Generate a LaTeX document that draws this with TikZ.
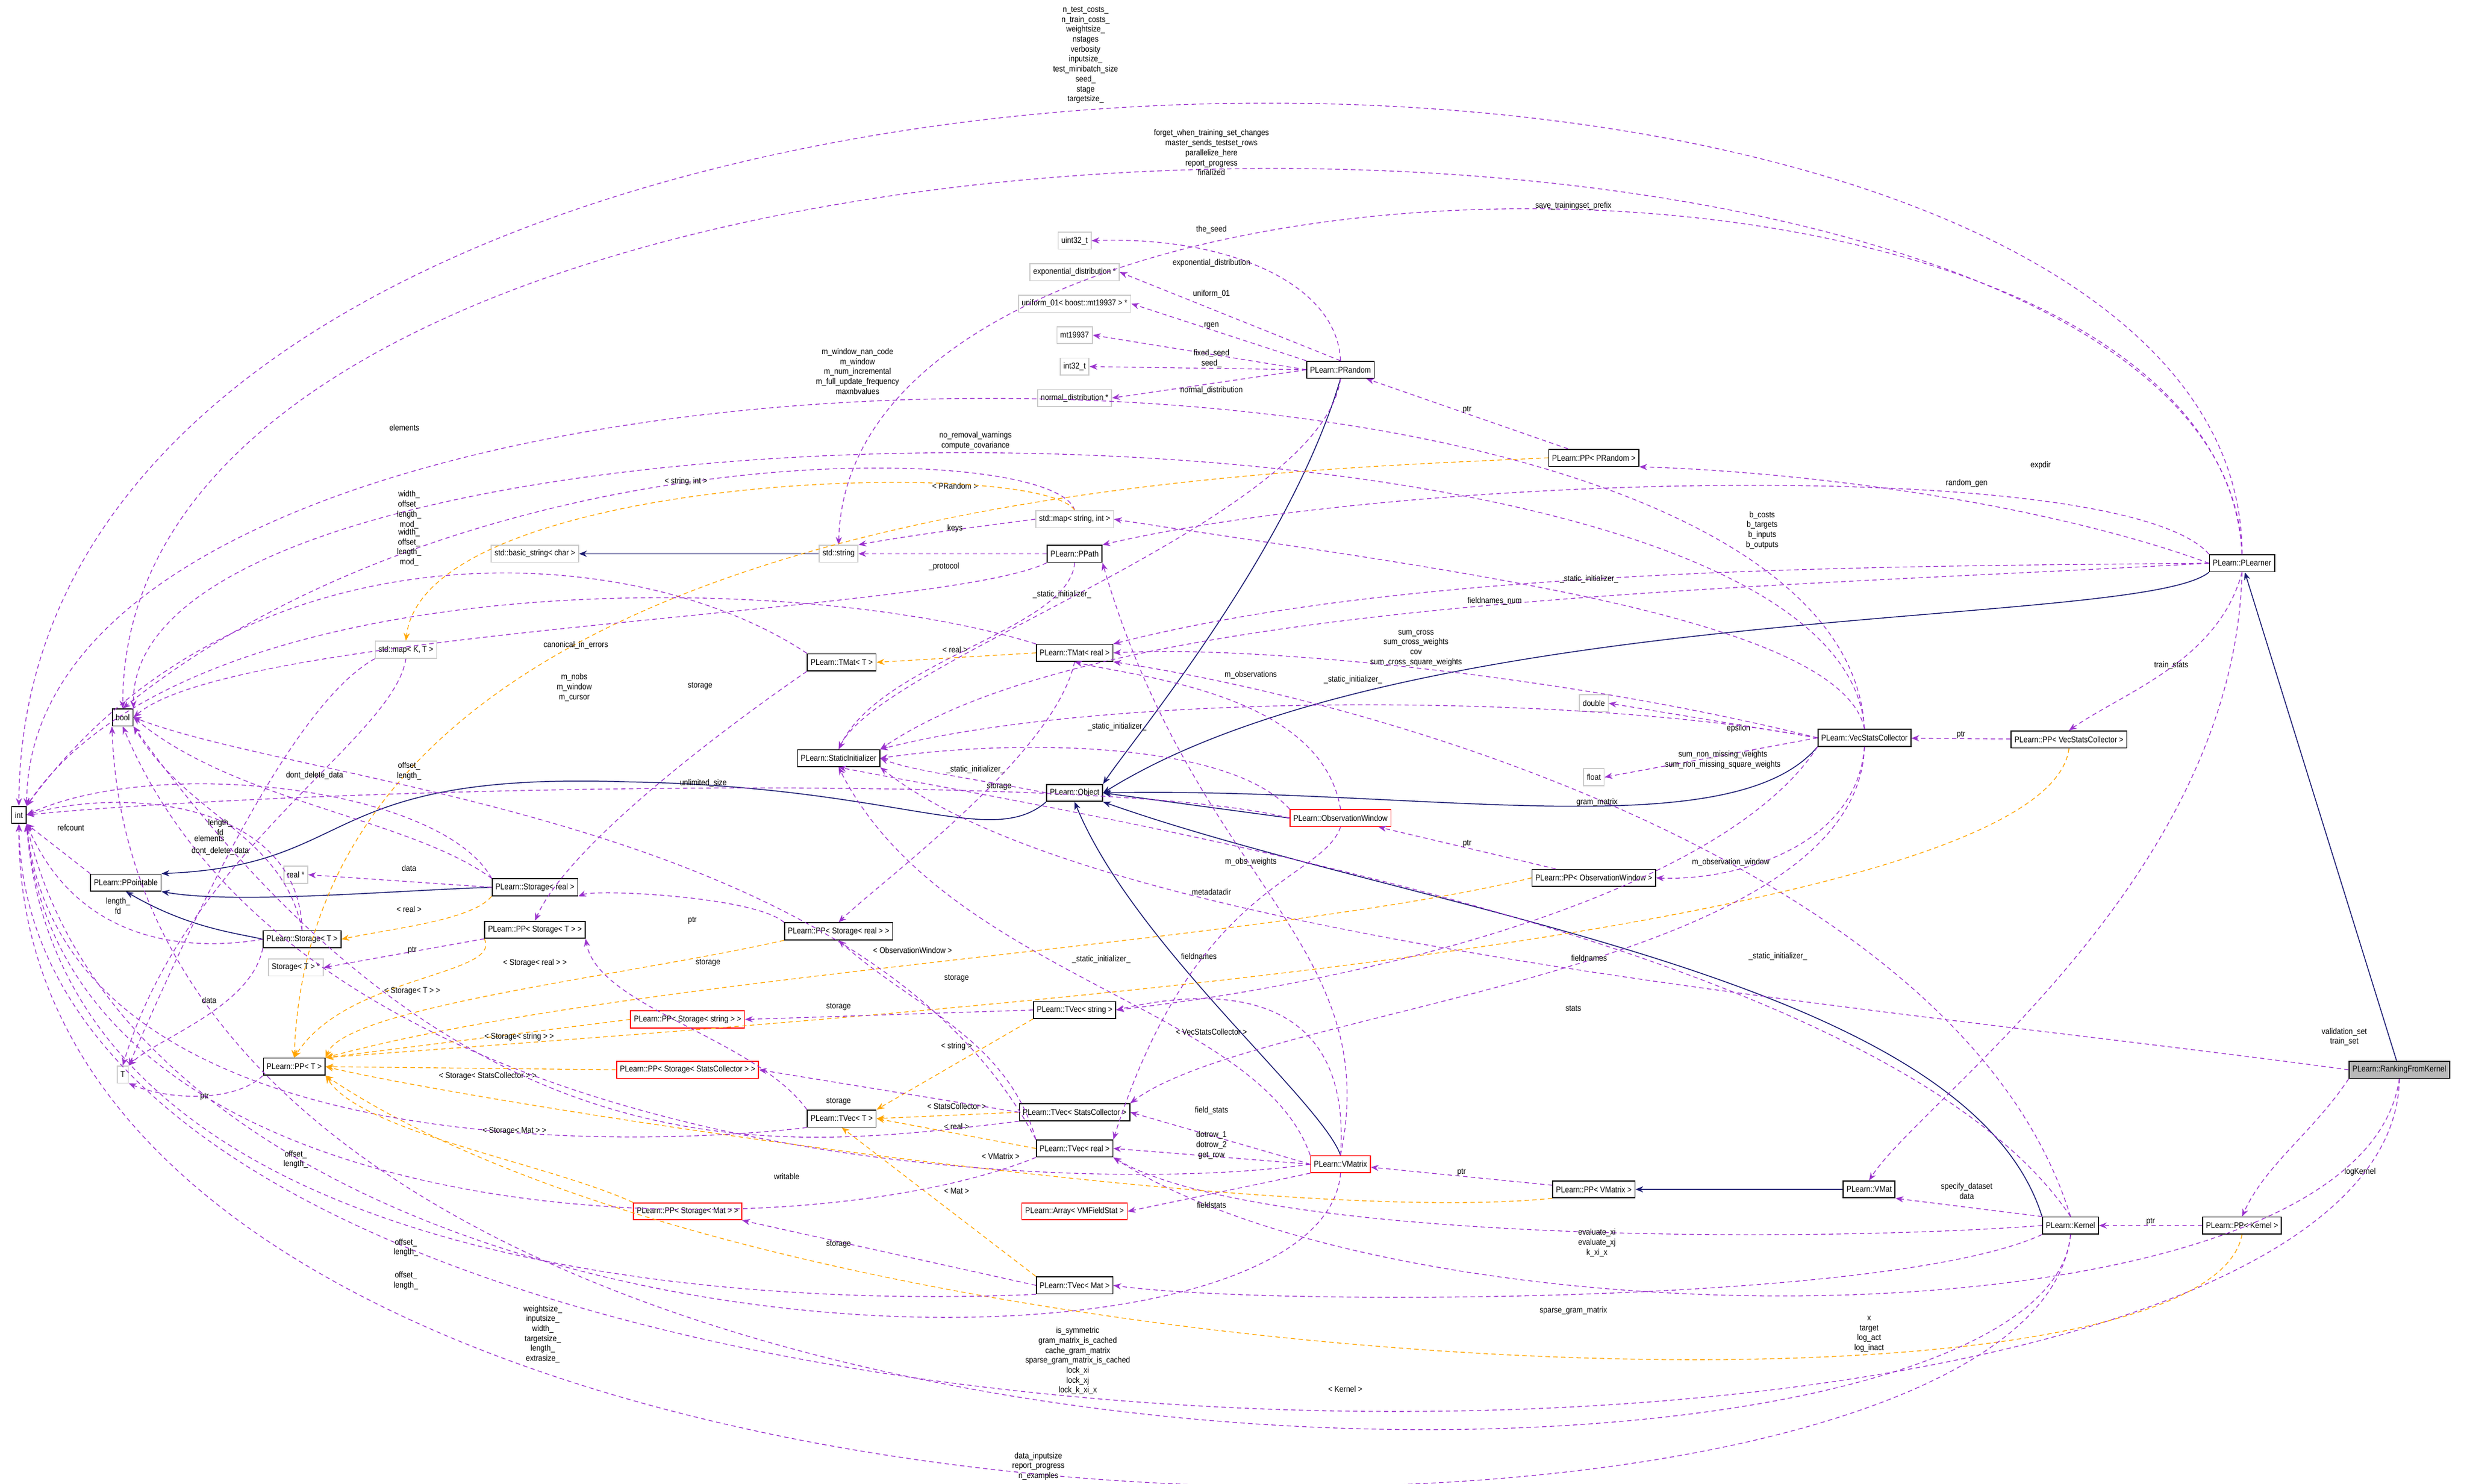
\documentclass[tikz,border=0pt]{standalone}
\usepackage{fontspec}
\setmainfont{Liberation Sans}[FakeStretch=0.88]
\usetikzlibrary{arrows.meta}
\definecolor{pu}{HTML}{9A32CD}
\definecolor{nv}{HTML}{191970}
\definecolor{og}{HTML}{FFA500}
\tikzset{
 x=0.05cm,y=-0.05cm,
 every node/.style={font=\fontsize{7.6}{9}\selectfont},
 bx/.style={draw=black,line width=0.9pt,fill=white,inner xsep=3pt,inner ysep=0pt,minimum height=0.54cm},
 gx/.style={bx,draw=gray!40},
 rx/.style={bx,draw=red},
 fx/.style={bx,fill=gray!55},
 lb/.style={align=center,inner sep=0pt},
 use/.style={draw=pu,dashed,dash pattern=on 4pt off 3pt,line width=0.7pt,-{Stealth[length=7pt,width=5.5pt]}},
 tp/.style={draw=og,dashed,dash pattern=on 4pt off 3pt,line width=0.7pt,-{Stealth[length=7pt,width=5.5pt]}},
 ih/.style={draw=nv,line width=0.8pt,-{Stealth[length=7pt,width=5.5pt]}},
}
\begin{document}
\begin{tikzpicture}
\useasboundingbox (0,0) rectangle (1568,943);
% nodes
\node[bx] (int) at (12,518) {int};
\node[bx] (bool) at (78,456) {bool};
\node[bx] (ppt) at (80,561) {PLearn::PPointable};
\node[gx] (realp) at (188,556) {real *};
\node[bx] (stor) at (340,564) {PLearn::Storage< real >};
\node[bx] (stT) at (192,597) {PLearn::Storage< T >};
\node[gx] (stTp) at (188,615) {Storage< T > *};
\node[gx] (T) at (78,683) {T};
\node[bx] (ppT) at (187,678) {PLearn::PP< T >};
\node[bx] (ppsT) at (340,591) {PLearn::PP< Storage< T > >};
\node[bx] (ppsr) at (533,592) {PLearn::PP< Storage< real > >};
\node[rx] (ppss) at (437,648) {PLearn::PP< Storage< string > >};
\node[rx] (ppsc) at (437,680) {PLearn::PP< Storage< StatsCollector > >};
\node[rx] (ppsm) at (437,770) {PLearn::PP< Storage< Mat > >};
\node[bx] (tvT) at (535,711) {PLearn::TVec< T >};
\node[bx] (tvs) at (683,642) {PLearn::TVec< string >};
\node[bx] (tvsc) at (683,707) {PLearn::TVec< StatsCollector >};
\node[bx] (tvr) at (683,730) {PLearn::TVec< real >};
\node[rx] (arr) at (683,770) {PLearn::Array< VMFieldStat >};
\node[bx] (tvm) at (683,817) {PLearn::TVec< Mat >};
\node[rx] (vmx) at (852,740) {PLearn::VMatrix};
\node[bx] (ppvm) at (1013,756) {PLearn::PP< VMatrix >};
\node[bx] (vmat) at (1188,756) {PLearn::VMat};
\node[bx] (ker) at (1316,779) {PLearn::Kernel};
\node[bx] (ppk) at (1425,779) {PLearn::PP< Kernel >};
\node[fx] (rfk) at (1525,680) {PLearn::RankingFromKernel};
\node[bx] (pl) at (1425,358) {PLearn::PLearner};
\node[bx] (ppvs) at (1315,470) {PLearn::PP< VecStatsCollector >};
\node[bx] (vsc) at (1185,469) {PLearn::VecStatsCollector};
\node[bx] (ppow) at (1013,558) {PLearn::PP< ObservationWindow >};
\node[rx] (ow) at (852,520) {PLearn::ObservationWindow};
\node[bx] (obj) at (683,504) {PLearn::Object};
\node[bx] (si) at (533,482) {PLearn::StaticInitializer};
\node[bx] (tmr) at (683,415) {PLearn::TMat< real >};
\node[bx] (tmT) at (535,421) {PLearn::TMat< T >};
\node[gx] (mKT) at (258,413) {std::map< K, T >};
\node[gx] (bstr) at (340,352) {std::basic\_string< char >};
\node[gx] (str) at (533,352) {std::string};
\node[bx] (pp) at (683,352) {PLearn::PPath};
\node[gx] (msi) at (683,330) {std::map< string, int >};
\node[bx] (ppr) at (1013,291) {PLearn::PP< PRandom >};
\node[bx] (pr) at (852,235) {PLearn::PRandom};
\node[gx] (u32) at (683,153) {uint32\_t};
\node[gx] (exd) at (683,173) {exponential\_distribution *};
\node[gx] (uni) at (683,193) {uniform\_01< boost::mt19937 > *};
\node[gx] (mt) at (683,213) {mt19937};
\node[gx] (i32) at (683,233) {int32\_t};
\node[gx] (nd) at (683,253) {normal\_distribution *};
\node[gx] (dbl) at (1013,447) {double};
\node[gx] (flt) at (1013,494) {float};

% inheritance
\draw[ih] (rfk) -- (pl);
\draw[ih] (pl.south west) .. controls (1360,400) and (900,380) .. (obj.east);
\draw[ih] (pr.south) .. controls (820,350) and (720,470) .. (obj.north east);
\draw[ih] (vsc.south west) .. controls (1100,540) and (900,500) .. (obj.east);
\draw[ih] (ow.west) -- (obj.east);
\draw[ih] (ker.north west) .. controls (1250,620) and (900,580) .. (obj.south east);
\draw[ih] (vmx.north) .. controls (840,700) and (720,600) .. (obj.south);
\draw[ih] (obj.south west) .. controls (630,540) and (570,500) .. (400,497) .. controls (200,490) and (230,550) .. (ppt.north east);
\draw[ih] (stor.west) .. controls (250,566) and (150,575) .. (ppt.south east);
\draw[ih] (stT.west) .. controls (150,593) and (120,590) .. (ppt.south);
\draw[ih] (str) -- (bstr);
\draw[ih] (vmat) -- (ppvm);

% PLearner uses
\draw[use] (pl.north) .. controls (1425,-53) and (15,-53) .. (int.north);
\node[lb] (l1) at (690,35) {n\_test\_costs\_\\n\_train\_costs\_\\weightsize\_\\nstages\\verbosity\\inputsize\_\\test\_minibatch\_size\\seed\_\\stage\\targetsize\_};
\draw[use] (pl.north) .. controls (1415,11) and (78,11) .. (bool.north);
\node[lb] (l2) at (770,97) {forget\_when\_training\_set\_changes\\master\_sends\_testset\_rows\\parallelize\_here\\report\_progress\\finalized};
\draw[use] (pl.north) .. controls (1410,61) and (540,61) .. (str.north);
\node[lb] (l3) at (1000,131) {save\_trainingset\_prefix};
\draw[use] (pl.west) .. controls (1300,320) and (1150,300) .. (ppr.south east);
\node[lb] (l4) at (1250,307) {random\_gen};
\draw[use] (pl.north west) .. controls (1350,290) and (900,300) .. (pp.north east);
\node[lb] (l5) at (1297,296) {expdir};
\draw[use] (pl.west) .. controls (1200,360) and (900,360) .. (tmr.north east);
\node[lb] (l6) at (1120,337) {b\_costs\\b\_targets\\b\_inputs\\b\_outputs};
\draw[use] (pl.west) .. controls (1100,375) and (700,380) .. (si.north east);
\node[lb] (l7) at (1010,368) {\_static\_initializer\_};
\draw[use] (pl.south) .. controls (1410,420) and (1350,440) .. (ppvs.north);
\node[lb] (l8) at (1380,423) {train\_stats};
\draw[use] (pl.south) .. controls (1420,560) and (1220,700) .. (vmat.north);
\node[lb] (l9) at (1490,659) {validation\_set\\train\_set};

% RankingFromKernel
\draw[use] (rfk.south west) .. controls (1470,720) and (1440,740) .. (ppk.north);
\node[lb] (l10) at (1500,745) {logKernel};
\draw[use] (rfk.west) .. controls (1200,640) and (700,600) .. (si.south east);
\node[lb] (l11) at (1130,608) {\_static\_initializer\_};
\draw[use] (rfk.south) .. controls (1500,860) and (900,860) .. (tvr.south east);
\node[lb] (l12) at (1188,848) {x\\target\\log\_act\\log\_inact};
\draw[use] (rfk.south) .. controls (1520,990) and (20,990) .. (int.south);

% Kernel / PP<Kernel>
\draw[use] (ppk) -- node[lb,above] (l13) {ptr} (ker);
\draw[tp] (ppk.south) .. controls (1400,920) and (500,880) .. (ppT.south east);
\node[lb] (l14) at (855,883) {< Kernel >};
\draw[use] (ker.north west) -- (vmat.south east);
\node[lb] (l15) at (1250,757) {specify\_dataset\\data};
\draw[use] (ker.west) .. controls (1150,790) and (800,790) .. (tvr.south east);
\node[lb] (l16) at (1015,790) {evaluate\_xi\\evaluate\_xj\\k\_xi\_x};
\draw[use] (ker.south west) .. controls (1200,830) and (800,830) .. (tvm.east);
\node[lb] (l17) at (1000,833) {sparse\_gram\_matrix};
\draw[use] (ker.south) .. controls (1300,985) and (90,985) .. (bool.south west);
\node[lb] (l18) at (685,865) {is\_symmetric\\gram\_matrix\_is\_cached\\cache\_gram\_matrix\\sparse\_gram\_matrix\_is\_cached\\lock\_xi\\lock\_xj\\lock\_k\_xi\_x};
\draw[use] (ker.south) .. controls (1290,1030) and (10,1030) .. (int.south);
\node[lb] (l19) at (660,932) {data\_inputsize\\report\_progress\\n\_examples};
\draw[use] (ker.north) .. controls (1250,560) and (900,450) .. (tmr.south east);
\node[lb] (l20) at (1015,510) {gram\_matrix};
\draw[use] (ker.north) .. controls (1200,600) and (700,520) .. (si.south);

% VMat / VMatrix
\draw[use] (ppvm) -- node[lb,above] (l21) {ptr} (vmx);
\draw[tp] (ppvm.south west) .. controls (800,780) and (300,700) .. (ppT.east);
\node[lb] (l22) at (636,735) {< VMatrix >};
\draw[use] (vmx.west) -- (tvsc.east);
\node[lb] (l23) at (770,706) {field\_stats};
\draw[use] (vmx.west) -- (tvr.east);
\node[lb] (l24) at (770,728) {dotrow\_1\\dotrow\_2\\get\_row};
\draw[use] (vmx.south west) -- (arr.east);
\node[lb] (l25) at (770,766) {fieldstats};
\draw[use] (vmx.north) .. controls (860,620) and (760,630) .. (tvs.east);
\node[lb] (l26) at (762,608) {fieldnames};
\draw[use] (vmx.north) .. controls (880,600) and (760,560) .. (pp.south east);
\node[lb] (l27) at (770,567) {metadatadir};
\draw[use] (vmx.south) .. controls (840,900) and (100,880) .. (int.south east);
\node[lb] (l28) at (345,848) {weightsize\_\\inputsize\_\\width\_\\targetsize\_\\length\_\\extrasize\_};
\draw[use] (vmx.north west) .. controls (800,640) and (600,620) .. (si.south);
\node[lb] (l29) at (700,610) {\_static\_initializer\_};
\draw[use] (vmx.west) .. controls (700,760) and (200,750) .. (bool.south);
\node[lb] (l30) at (500,748) {writable};

% VecStatsCollector
\draw[use] (ppvs) -- node[lb,above] (l31) {ptr} (vsc);
\draw[tp] (ppvs.south) .. controls (1300,600) and (500,650) .. (ppT.north east);
\node[lb] (l32) at (770,656) {< VecStatsCollector >};
\draw[use] (vsc.west) .. controls (1000,430) and (800,410) .. (tmr.east);
\node[lb] (l33) at (900,412) {sum\_cross\\sum\_cross\_weights\\cov\\sum\_cross\_square\_weights};
\draw[use] (vsc.west) -- (dbl.east);
\node[lb] (l34) at (1105,463) {epsilon};
\draw[use] (vsc.west) -- (flt.east);
\node[lb] (l35) at (1095,483) {sum\_non\_missing\_weights\\sum\_non\_missing\_square\_weights};
\draw[use] (vsc.south) .. controls (1180,540) and (1100,560) .. (ppow.east);
\node[lb] (l36) at (1100,548) {m\_observation\_window};
\draw[use] (vsc.south) .. controls (1180,620) and (800,640) .. (tvsc.north east);
\node[lb] (l37) at (1000,641) {stats};
\draw[use] (vsc.south west) .. controls (1100,560) and (900,620) .. (tvs.east);
\node[lb] (l38) at (1010,609) {fieldnames};
\draw[use] (vsc.north) .. controls (1170,390) and (900,360) .. (msi.east);
\node[lb] (l39) at (950,382) {fieldnames\_num};
\draw[use] (vsc.north) .. controls (1170,232) and (80,232) .. (bool.north east);
\node[lb] (l40) at (620,280) {no\_removal\_warnings\\compute\_covariance};
\draw[use] (vsc.north) .. controls (1170,176) and (20,176) .. (int.north east);
\node[lb] (l41) at (545,236) {m\_window\_nan\_code\\m\_window\\m\_num\_incremental\\m\_full\_update\_frequency\\maxnbvalues};
\draw[use] (vsc.west) .. controls (1000,440) and (700,440) .. (si.north east);
\node[lb] (l42) at (860,432) {\_static\_initializer\_};

% ObservationWindow
\draw[use] (ppow) -- node[lb,above] (l43) {ptr} (ow);
\draw[tp] (ppow.west) .. controls (800,600) and (400,620) .. (ppT.north east);
\node[lb] (l44) at (580,604) {< ObservationWindow >};
\draw[use] (ow.north) .. controls (840,440) and (720,430) .. (tmr.south);
\node[lb] (l45) at (795,429) {m\_observations};
\draw[use] (ow.west) .. controls (700,490) and (200,500) .. (int.east);
\node[lb] (l46) at (365,437) {m\_nobs\\m\_window\\m\_cursor};
\draw[use] (ow.south) .. controls (840,560) and (760,560) .. (tvr.north east);
\node[lb] (l47) at (795,548) {m\_obs\_weights};
\draw[use] (ow.north west) .. controls (780,470) and (640,470) .. (si.east);
\node[lb] (l48) at (710,462) {\_static\_initializer\_};

% PRandom
\draw[use] (ppr) -- node[lb,above] (l49) {ptr} (pr);
\draw[tp] (ppr.west) .. controls (800,300) and (200,310) .. (ppT.north);
\node[lb] (l50) at (607,309) {< PRandom >};
\draw[use] (pr.north) .. controls (850,180) and (780,150) .. (u32.east);
\node[lb] (l51) at (770,146) {the\_seed};
\draw[use] (pr.north) -- (exd.east);
\node[lb] (l52) at (770,167) {exponential\_distribution};
\draw[use] (pr.north west) -- (uni.east);
\node[lb] (l53) at (770,187) {uniform\_01};
\draw[use] (pr.west) -- (mt.east);
\node[lb] (l54) at (770,207) {rgen};
\draw[use] (pr.west) -- (i32.east);
\node[lb] (l55) at (770,228) {fixed\_seed\\seed\_};
\draw[use] (pr.west) -- (nd.east);
\node[lb] (l56) at (770,248) {normal\_distribution};
\draw[use] (pr.south) .. controls (840,330) and (560,420) .. (si.north);

% PPath / map / string
\draw[use] (pp.west) -- (str.east);
\node[lb] (l57) at (600,360) {\_protocol};
\draw[use] (pp.south) .. controls (680,400) and (560,420) .. (si.north);
\node[lb] (l58) at (675,378) {\_static\_initializer\_};
\draw[use] (pp.south west) .. controls (600,390) and (150,400) .. (bool.east);
\node[lb] (l59) at (366,410) {canonical\_in\_errors};
\draw[use] (msi.west) .. controls (620,335) and (580,340) .. (str.north east);
\node[lb] (l60) at (607,336) {keys};
\draw[use] (msi.north) .. controls (670,280) and (300,272) .. (bool.north);
\node[lb] (l61) at (257,272) {elements};
\draw[tp] (msi.north) .. controls (660,290) and (270,300) .. (mKT.north);
\node[lb] (l62) at (436,306) {< string, int >};
\draw[use] (mKT.south) .. controls (250,470) and (120,540) .. (T.north);
\node[lb] (l63) at (133,533) {elements};
\draw[use] (mKT.south west) .. controls (200,440) and (150,520) .. (T.north east);

% TMat
\draw[tp] (tmr.west) -- (tmT.east);
\node[lb] (l64) at (607,413) {< real >};
\draw[use] (tmr.south) .. controls (670,480) and (560,560) .. (ppsr.north);
\node[lb] (l65) at (635,500) {storage};
\draw[use] (tmT.north west) .. controls (400,340) and (150,330) .. (int.north east);
\node[lb] (l66) at (260,324) {width\_\\offset\_\\length\_\\mod\_};
\draw[use] (tmr.north west) .. controls (500,360) and (120,360) .. (int.north east);
\node[lb] (l67) at (260,348) {width\_\\offset\_\\length\_\\mod\_};
\draw[use] (tmT.south west) .. controls (450,470) and (360,540) .. (ppsT.north);
\node[lb] (l68) at (445,436) {storage};

% TVec
\draw[tp] (tvr.west) -- (tvT.east);
\node[lb] (l69) at (608,716) {< real >};
\draw[tp] (tvsc.west) -- (tvT.east);
\node[lb] (l70) at (608,703) {< StatsCollector >};
\draw[tp] (tvs.south west) -- (tvT.north east);
\node[lb] (l71) at (608,665) {< string >};
\draw[tp] (tvm.north west) -- (tvT.south);
\node[lb] (l72) at (608,757) {< Mat >};
\draw[use] (tvs.west) -- (ppss.east);
\node[lb] (l73) at (533,640) {storage};
\draw[use] (tvsc.west) -- (ppsc.east);
\node[lb] (l74) at (533,700) {storage};
\draw[use] (tvm.west) -- (ppsm.south east);
\node[lb] (l75) at (533,791) {storage};
\draw[use] (tvr.north west) .. controls (640,660) and (580,640) .. (ppsr.south);
\node[lb] (l76) at (608,622) {storage};
\draw[use] (tvT.north west) .. controls (480,660) and (380,640) .. (ppsT.south east);
\node[lb] (l77) at (450,612) {storage};
\draw[use] (tvT.south west) .. controls (400,730) and (40,740) .. (int.south east);
\node[lb] (l78) at (188,737) {offset\_\\length\_};
\draw[use] (tvr.south west) .. controls (500,800) and (40,790) .. (int.south east);
\node[lb] (l79) at (258,793) {offset\_\\length\_};
\draw[use] (tvm.south west) .. controls (500,830) and (40,820) .. (int.south east);
\node[lb] (l80) at (258,814) {offset\_\\length\_};
\draw[use] (tvsc.south west) .. controls (500,730) and (300,760) .. (bool.south east);
\draw[use] (tvr.north west) .. controls (550,520) and (200,500) .. (bool.east);
\node[lb] (l81) at (447,498) {unlimited\_size};

% Storage
\draw[use] (stor.west) -- (realp.east);
\node[lb] (l82) at (260,552) {data};
\draw[tp] (stor.south west) .. controls (300,585) and (250,590) .. (stT.east);
\node[lb] (l83) at (260,578) {< real >};
\draw[use] (stor.north west) .. controls (260,520) and (150,510) .. (bool.east);
\node[lb] (l84) at (200,493) {dont\_delete\_data};
\draw[use] (stor.north west) .. controls (280,500) and (100,480) .. (int.east);
\node[lb] (l85) at (260,490) {offset\_\\length\_};
\draw[use] (stT.west) .. controls (120,605) and (50,600) .. (int.south east);
\node[lb] (l86) at (75,576) {length\_\\fd};
\draw[use] (stT.north) .. controls (180,530) and (120,520) .. (bool.south east);
\node[lb] (l87) at (140,541) {dont\_delete\_data};
\draw[use] (stT.north) .. controls (190,510) and (80,500) .. (int.east);
\node[lb] (l88) at (140,526) {length\_\\fd};
\draw[use] (stT.south west) .. controls (160,640) and (100,660) .. (T.north east);
\node[lb] (l89) at (133,636) {data};
\draw[use] (ppsT.south west) -- (stTp.east);
\node[lb] (l90) at (262,604) {ptr};
\draw[tp] (ppsT.south west) .. controls (320,620) and (220,620) .. (ppT.north);
\node[lb] (l91) at (262,630) {< Storage< T > >};
\draw[use] (ppsr.north west) .. controls (480,570) and (380,565) .. (stor.south east);
\node[lb] (l92) at (440,585) {ptr};
\draw[tp] (ppsr.south west) .. controls (400,620) and (220,640) .. (ppT.north east);
\node[lb] (l93) at (340,612) {< Storage< real > >};
\draw[tp] (ppss.west) -- (ppT.north east);
\node[lb] (l94) at (330,659) {< Storage< string > >};
\draw[tp] (ppsc.west) -- (ppT.east);
\node[lb] (l95) at (310,684) {< Storage< StatsCollector > >};
\draw[tp] (ppsm.north west) .. controls (350,740) and (230,720) .. (ppT.south east);
\node[lb] (l96) at (327,719) {< Storage< Mat > >};
\draw[use] (ppT.south west) .. controls (150,700) and (110,700) .. (T.south east);
\node[lb] (l97) at (130,697) {ptr};
\draw[use] (ppt.north west) -- (int.south east);
\node[lb] (l98) at (45,526) {refcount};
\draw[use] (obj.west) .. controls (620,495) and (580,490) .. (si.east);
\node[lb] (l99) at (620,489) {\_static\_initializer\_};
\end{tikzpicture}
\end{document}
